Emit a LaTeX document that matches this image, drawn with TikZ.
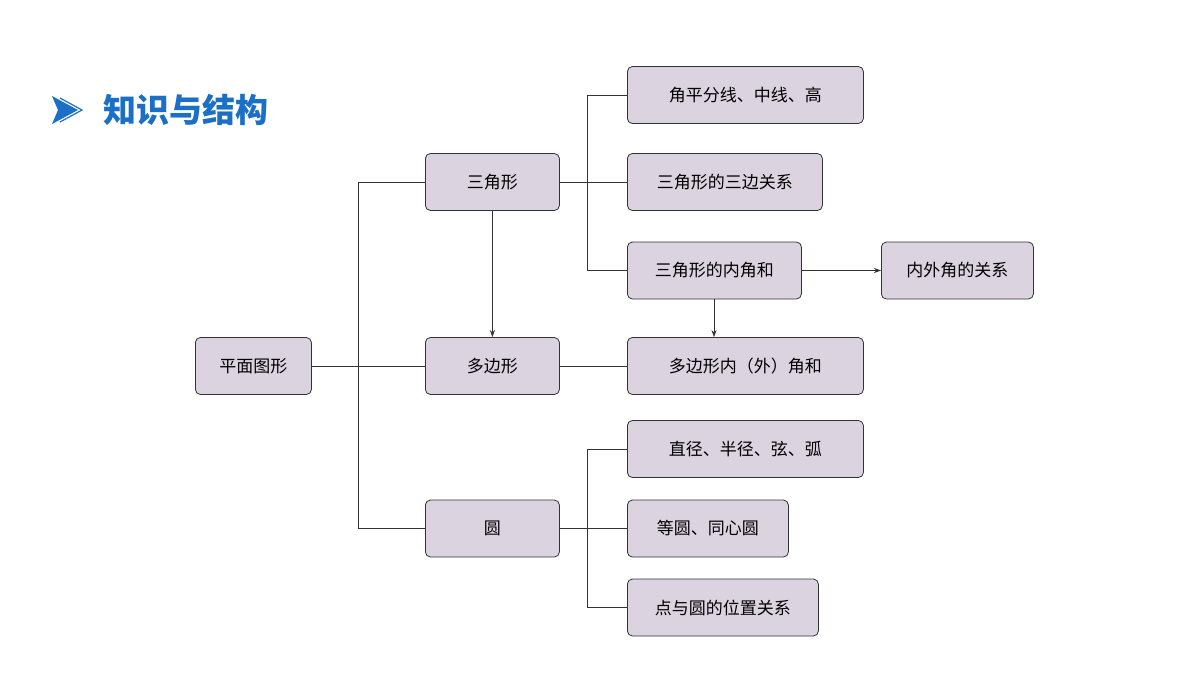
\documentclass[tikz,border=0pt]{standalone}
\usepackage{fontspec}
\newfontfamily\cjk{Noto Sans CJK SC}
\usetikzlibrary{arrows.meta}
\definecolor{boxfill}{HTML}{DCD3E0}
\definecolor{titleblue}{HTML}{1C6FC6}
\begin{document}
\begin{tikzpicture}[x=1pt,y=-1pt,
  box/.style={draw=black!80,fill=boxfill,rounded corners=5pt,line width=0.8pt,minimum height=57pt,font=\cjk\fontsize{17}{17}\selectfont,inner sep=0pt,anchor=west},
  ln/.style={draw=black!80,line width=0.7pt},
  arr/.style={ln,-{Stealth[length=7pt,width=5pt]}}]
\useasboundingbox (0,0) rectangle (1200,675);
% title
\fill[titleblue] (52,96) -- (78,110) -- (52,124) -- (58,110) -- cycle;
\draw[titleblue,line width=1.2pt] (60,98) -- (82,110) -- (60,122);
\node[anchor=west,text=titleblue,font=\cjk\bfseries\fontsize{33}{33}\selectfont,inner sep=0pt] (title) at (103,110) {知识与结构};
% boxes
\node[box,minimum width=116pt] (pm) at (195,366) {平面图形};
\node[box,minimum width=134pt] (sj) at (425,182) {三角形};
\node[box,minimum width=134pt] (dbx) at (425,366) {多边形};
\node[box,minimum width=134pt] (y) at (425,528.5) {圆};
\node[box,minimum width=236pt] (a1) at (627,95) {角平分线、中线、高};
\node[box,minimum width=195pt] (a2) at (627,182) {三角形的三边关系};
\node[box,minimum width=174pt] (a3) at (627,270.5) {三角形的内角和};
\node[box,minimum width=152pt] (a4) at (881,270.5) {内外角的关系};
\node[box,minimum width=236pt] (b1) at (627,366) {多边形内（外）角和};
\node[box,minimum width=236pt] (c1) at (627,449) {直径、半径、弦、弧};
\node[box,minimum width=161pt] (c2) at (627,528.5) {等圆、同心圆};
\node[box,minimum width=191pt] (c3) at (627,607.5) {点与圆的位置关系};
% connectors
\coordinate (t1) at (358,182); \coordinate (t2) at (358,528.5); \coordinate (tm) at (358,366);
\draw[ln] (pm.east) -- (dbx.west);
\draw[ln] (sj.west) -- (t1) -- (t2) -- (y.west);
\coordinate (s1) at (587,95); \coordinate (s3) at (587,270.5);
\draw[ln] (a1.west) -- (s1) -- (s3) -- (a3.west);
\draw[ln] (sj.east) -- (a2.west);
\draw[arr] (sj.south) -- (dbx.north);
\draw[arr] (a3.south -| 714,0) -- (b1.north -| 714,0);
\draw[arr] (a3.east) -- (a4.west);
\draw[ln] (dbx.east) -- (b1.west);
\coordinate (r1) at (587,449); \coordinate (r3) at (587,607.5);
\draw[ln] (c1.west) -- (r1) -- (r3) -- (c3.west);
\draw[ln] (y.east) -- (c2.west);
\end{tikzpicture}
\end{document}
